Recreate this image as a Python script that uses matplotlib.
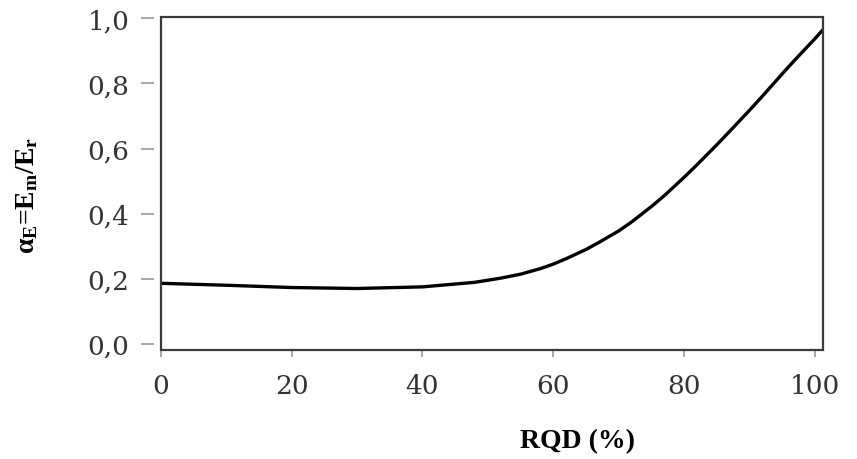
import matplotlib
matplotlib.use("Agg")
import matplotlib.pyplot as plt
from matplotlib.patches import Rectangle

# values
rqd = [0, 10, 20, 30, 40, 48, 52, 55, 58, 60, 62, 65, 67, 70, 72, 75, 77, 80,
       82, 85, 87, 90, 92, 95, 97, 100, 101.2]
alpha_e = [0.186, 0.180, 0.173, 0.170, 0.175, 0.189, 0.202, 0.214, 0.231, 0.245,
           0.262, 0.290, 0.312, 0.347, 0.375, 0.422, 0.456, 0.512, 0.551, 0.612,
           0.654, 0.718, 0.762, 0.830, 0.874, 0.938, 0.965]

x_ticks = [0, 20, 40, 60, 80, 100]
x_tick_labels = ["0", "20", "40", "60", "80", "100"]
y_ticks = [0.0, 0.2, 0.4, 0.6, 0.8, 1.0]
y_tick_labels = ["0,0", "0,2", "0,4", "0,6", "0,8", "1,0"]

plt.rcParams["mathtext.fontset"] = "custom"
plt.rcParams["mathtext.rm"] = "Liberation Serif:bold"
plt.rcParams["mathtext.it"] = "Liberation Serif:bold"
plt.rcParams["mathtext.bf"] = "Liberation Serif:bold"

fig = plt.figure(figsize=(8.57, 4.6), dpi=100)
ax = fig.add_axes([0.1875, 0.2376, 0.7728, 0.7226])

ax.plot(rqd, alpha_e, color="black", lw=2.4, solid_joinstyle="round")

ax.set_xlim(0, 101.2)
ax.set_ylim(-0.018, 1.003)

ax.set_xticks(x_ticks)
ax.set_xticklabels(x_tick_labels)
ax.set_yticks(y_ticks)
ax.set_yticklabels(y_tick_labels)

for s in ax.spines.values():
    s.set_visible(False)
ax.spines["left"].set_position(("outward", 5))
ax.add_patch(Rectangle((0, 0), 1, 1, transform=ax.transAxes, fill=False,
                       edgecolor="#3a3a3a", lw=1.6, clip_on=False, zorder=3))

ax.tick_params(axis="y", direction="out", length=9.5, width=1.2, color="#9a9a9a", pad=8)
ax.tick_params(axis="x", direction="out", length=5, width=1.2, color="#9a9a9a", pad=12)
for lab in ax.get_xticklabels() + ax.get_yticklabels():
    lab.set_fontfamily("DejaVu Serif")
    lab.set_fontsize(19)
    lab.set_color("#333333")

fig.text(0.674, 0.04, "RQD (%)", family="Liberation Serif", fontweight="bold",
         fontsize=20, ha="center", va="center")
fig.text(0.032, 0.575, r"$\alpha_\mathrm{E}$=E$_\mathrm{m}$/E$_\mathrm{r}$",
         family="Liberation Serif", fontweight="bold", fontsize=20,
         rotation=90, ha="center", va="center")

fig.savefig("out.png", dpi=100)
